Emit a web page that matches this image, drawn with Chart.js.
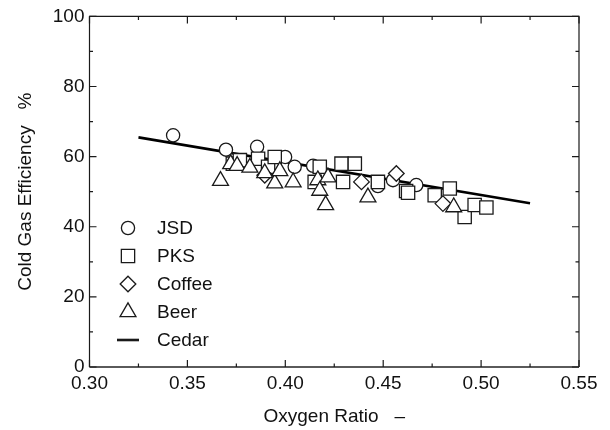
<!DOCTYPE html>
<html>
<head>
<meta charset="utf-8">
<script src="https://cdn.jsdelivr.net/npm/chart.js@4.4.0/dist/chart.umd.min.js"></script>
<style>
  html, body { margin: 0; padding: 0; background: #fff; }
</style>
</head>
<body>
<canvas id="chart" width="610" height="430"></canvas>
<script>
// --- data ---
const jsdX = [0.3427, 0.3697, 0.3856, 0.3999, 0.4048, 0.4142, 0.4473, 0.4550, 0.4669];
const jsdY = [66.1, 62.0, 62.8, 59.9, 57.1, 57.4, 51.6, 53.3, 51.9];

const pksX = [0.3732, 0.3768, 0.3861, 0.3912, 0.3946, 0.4150, 0.4176, 0.4287, 0.4295, 0.4355,
              0.4473, 0.4617, 0.4627, 0.4763, 0.4840, 0.4916, 0.4967, 0.5027];
const pksY = [58.0, 59.0, 59.4, 57.1, 59.9, 52.8, 57.1, 58.0, 52.8, 58.0,
              52.8, 50.2, 49.7, 49.0, 50.9, 42.8, 46.2, 45.5];

const coffeeX = [0.3895, 0.4389, 0.4567, 0.4805];
const coffeeY = [54.7, 52.8, 55.2, 46.6];

const beerX = [0.3669, 0.3721, 0.3754, 0.3819, 0.3895, 0.3946, 0.3972, 0.4040, 0.4166, 0.4218,
               0.4176, 0.4206, 0.4422, 0.4860];
const beerY = [53.1, 57.9, 57.4, 56.9, 55.3, 52.4, 55.9, 52.7, 53.3, 54.1,
               50.3, 46.2, 48.4, 45.6];

const cedarX = [0.325, 0.525];
const cedarY = [65.5, 46.7];

const xTickValues = [0.30, 0.35, 0.40, 0.45, 0.50, 0.55];
const yTickValues = [0, 20, 40, 60, 80, 100];

const toPoints = (xs, ys) => xs.map((x, i) => ({ x: x, y: ys[i] }));

Chart.defaults.font.family = '"Liberation Sans", Arial, sans-serif';
Chart.defaults.font.size = 19;
Chart.defaults.color = '#111';

const ink = '#1a1a1a';

function markerSet(label, xs, ys, style, radius, order) {
    return {
        label: label,
        data: toPoints(xs, ys),
        showLine: false,
        pointStyle: style,
        pointRadius: radius,
        pointHoverRadius: radius,
        pointBorderWidth: 1.3,
        pointBorderColor: ink,
        pointBackgroundColor: '#fff',
        borderColor: ink,
        backgroundColor: '#fff',
        order: order
    };
}

// draws the same shapes Chart.js uses, for the legend
function drawMark(ctx, style, x, y, r) {
    ctx.beginPath();
    if (style === 'circle') {
        ctx.arc(x, y, r, 0, Math.PI * 2);
    } else if (style === 'rect') {
        const s = Math.SQRT1_2 * r;
        ctx.rect(x - s, y - s, 2 * s, 2 * s);
    } else if (style === 'rectRot') {
        ctx.moveTo(x - r, y); ctx.lineTo(x, y - r); ctx.lineTo(x + r, y); ctx.lineTo(x, y + r);
        ctx.closePath();
    } else if (style === 'triangle') {
        const a = Math.sin(Math.PI / 3) * r;
        ctx.moveTo(x, y - r); ctx.lineTo(x + a, y + r / 2); ctx.lineTo(x - a, y + r / 2);
        ctx.closePath();
    }
    ctx.fill();
    ctx.stroke();
}

// frame on all four sides with inward major/minor ticks
const frameTicks = {
    id: 'frameTicks',
    beforeDatasetsDraw(chart) {
        const { ctx, chartArea: a, scales: { x, y } } = chart;
        ctx.save();
        ctx.strokeStyle = ink;
        ctx.lineWidth = 1.2;
        ctx.beginPath();
        ctx.moveTo(a.left, a.bottom); ctx.lineTo(a.left, a.top);
        ctx.lineTo(a.right, a.top); ctx.lineTo(a.right, a.bottom);
        ctx.stroke();
        // bottom edge is a little greyer and heavier in the original
        ctx.strokeStyle = '#5a5a5a';
        ctx.lineWidth = 1.8;
        ctx.beginPath();
        ctx.moveTo(a.left, a.bottom); ctx.lineTo(a.right, a.bottom);
        ctx.stroke();
        ctx.strokeStyle = ink;
        ctx.lineWidth = 1.2;
        ctx.beginPath();
        xTickValues.forEach((v, i) => {
            const px = x.getPixelForValue(v);
            ctx.moveTo(px, a.bottom); ctx.lineTo(px, a.bottom - 7);
            ctx.moveTo(px, a.top); ctx.lineTo(px, a.top + 7);
            if (i < xTickValues.length - 1) {
                const m = x.getPixelForValue((v + xTickValues[i + 1]) / 2);
                ctx.moveTo(m, a.bottom); ctx.lineTo(m, a.bottom - 3.5);
                ctx.moveTo(m, a.top); ctx.lineTo(m, a.top + 3.5);
            }
        });
        yTickValues.forEach((v, i) => {
            const py = y.getPixelForValue(v);
            ctx.moveTo(a.left, py); ctx.lineTo(a.left + 7, py);
            ctx.moveTo(a.right, py); ctx.lineTo(a.right - 7, py);
            if (i < yTickValues.length - 1) {
                const m = y.getPixelForValue((v + yTickValues[i + 1]) / 2);
                ctx.moveTo(a.left, m); ctx.lineTo(a.left + 3.5, m);
                ctx.moveTo(a.right, m); ctx.lineTo(a.right - 3.5, m);
            }
        });
        ctx.stroke();
        ctx.restore();
    }
};

// legend inside the plot, lower left
const insideLegend = {
    id: 'insideLegend',
    afterDraw(chart) {
        const ctx = chart.ctx;
        const symX = 128, textX = 157, top = 228, step = 28;
        ctx.save();
        ctx.font = '19px "Liberation Sans", Arial, sans-serif';
        ctx.textBaseline = 'middle';
        chart.data.datasets.forEach((ds, i) => {
            const yy = top + i * step;
            ctx.strokeStyle = ink;
            if (ds.showLine) {
                ctx.lineWidth = 2.6;
                ctx.beginPath(); ctx.moveTo(symX - 11, yy); ctx.lineTo(symX + 11, yy); ctx.stroke();
            } else {
                ctx.lineWidth = 1.3;
                ctx.fillStyle = '#fff';
                drawMark(ctx, ds.pointStyle, symX, yy, ds.pointRadius);
            }
            ctx.fillStyle = '#111';
            ctx.fillText(ds.label, textX, yy + 1);
        });
        ctx.restore();
    }
};

new Chart(document.getElementById('chart'), {
    type: 'scatter',
    data: {
        datasets: [
            markerSet('JSD', jsdX, jsdY, 'circle', 6.6, 4),
            markerSet('PKS', pksX, pksY, 'rect', 9.4, 3),
            markerSet('Coffee', coffeeX, coffeeY, 'rectRot', 7.8, 2),
            markerSet('Beer', beerX, beerY, 'triangle', 9.2, 1),
            {
                label: 'Cedar',
                data: toPoints(cedarX, cedarY),
                showLine: true,
                borderColor: '#000',
                borderWidth: 2.6,
                pointRadius: 0,
                pointHoverRadius: 0,
                fill: false,
                order: 5
            }
        ]
    },
    options: {
        responsive: false,
        animation: false,
        devicePixelRatio: 1,
        layout: { padding: { top: 16, right: 31, left: 0, bottom: 0 } },
        plugins: { legend: { display: false }, tooltip: { enabled: false } },
        scales: {
            x: {
                type: 'linear',
                min: 0.30,
                max: 0.55,
                afterBuildTicks: s => { s.ticks = xTickValues.map(v => ({ value: v })); },
                afterFit: s => { s.height = 63; },
                ticks: { callback: v => v.toFixed(2), padding: 5, maxRotation: 0, autoSkip: false },
                grid: { display: false, drawTicks: false },
                border: { display: false },
                title: { display: true, text: 'Oxygen Ratio   \u2013', padding: { top: 0, bottom: 2 } }
            },
            y: {
                min: 0,
                max: 100,
                afterBuildTicks: s => { s.ticks = yTickValues.map(v => ({ value: v })); },
                afterFit: s => { s.width = 89.5; },
                ticks: { padding: 5 },
                grid: { display: false, drawTicks: false },
                border: { display: false },
                title: { display: true, text: 'Cold Gas Efficiency   %', padding: { top: 14, bottom: 0 } }
            }
        }
    },
    plugins: [frameTicks, insideLegend]
});
</script>
</body>
</html>
